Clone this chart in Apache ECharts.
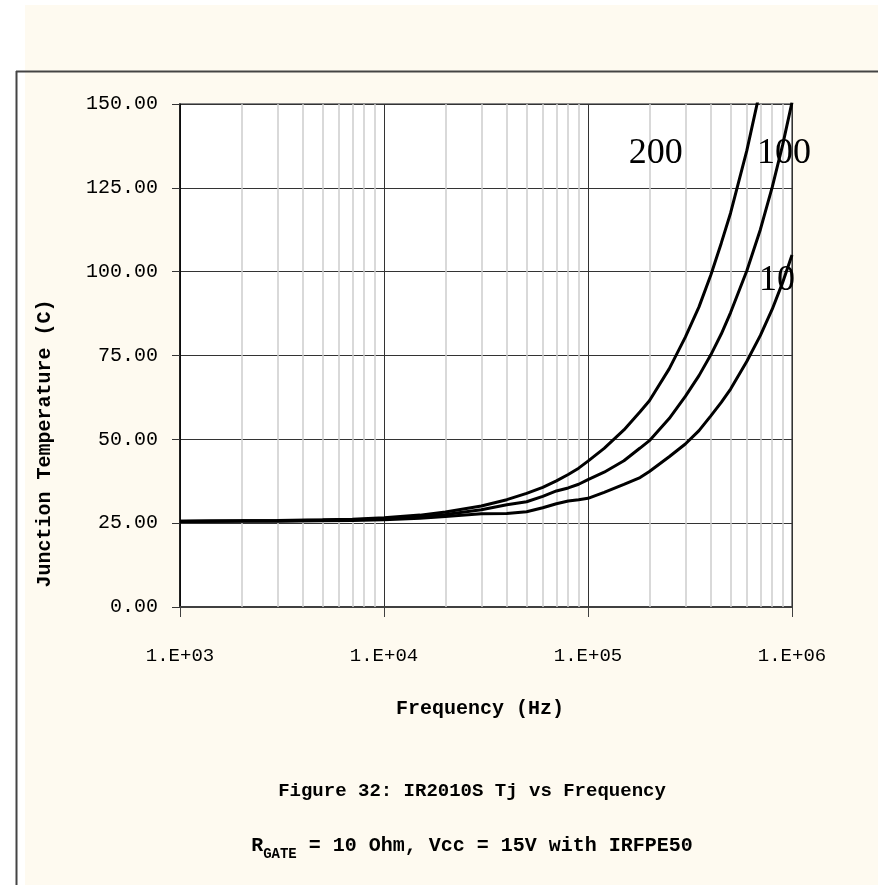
<!DOCTYPE html>
<html>
<head>
<meta charset="utf-8">
<script src="https://cdn.jsdelivr.net/npm/echarts@6/dist/echarts.min.js"></script>
<style>
  html, body { margin: 0; padding: 0; background: #ffffff; }
  #main { width: 878px; height: 885px; }
</style>
</head>
<body>
<div id="main"></div>
<script>
// frequency points (Hz)
var freqs = [1e3, 2e3, 3e3, 5e3, 7e3, 1e4, 1.5e4, 2e4, 3e4, 4e4, 5e4, 6e4, 7e4, 8e4, 9e4,
             1e5, 1.2e5, 1.5e5, 1.8e5, 2e5, 2.5e5, 3e5, 3.5e5, 4e5, 4.5e5, 5e5, 6e5, 7e5, 8e5, 9e5, 1e6];
// junction temperature (C)
var tj200 = [25.6, 25.7, 25.8, 26.0, 26.2, 26.6, 27.4, 28.3, 30.1, 32.0, 33.9, 35.7, 37.6, 39.5, 41.4,
             43.5, 47.3, 52.8, 58.2, 61.5, 71.0, 80.5, 89.5, 99.0, 108.5, 117.5, 136.0, 154.5, null, null, null];
var tj100 = [25.6, 25.7, 25.7, 25.9, 26.0, 26.3, 26.9, 27.6, 29.0, 30.5, 31.4, 33.0, 34.6, 35.5, 36.6,
             38.0, 40.2, 43.6, 47.4, 49.6, 56.2, 62.8, 69.0, 75.2, 81.4, 87.8, 100.2, 112.6, 125.2, 137.8, 150.5];
var tj10 = [25.5, 25.6, 25.6, 25.7, 25.8, 26.0, 26.5, 27.0, 27.8, 27.9, 28.4, 29.6, 30.8, 31.6, 32.0,
            32.4, 34.2, 36.6, 38.6, 40.4, 44.8, 48.6, 52.6, 57.0, 61.0, 65.0, 73.2, 81.0, 88.8, 96.8, 105.0];
// minor log grid lines
var minorFreqs = [2e3, 3e3, 4e3, 5e3, 6e3, 7e3, 8e3, 9e3,
                  2e4, 3e4, 4e4, 5e4, 6e4, 7e4, 8e4, 9e4,
                  2e5, 3e5, 4e5, 5e5, 6e5, 7e5, 8e5, 9e5];
var xTickLabels = {3: '1.E+03', 4: '1.E+04', 5: '1.E+05', 6: '1.E+06'};

var MONO = "'Liberation Mono', 'DejaVu Sans Mono', monospace";

function pairs(ys) {
  return freqs.map(function (f, i) { return [f, ys[i]]; });
}

window.onload = function () {
  var myChart = echarts.init(document.getElementById('main'));
  var option = {
    animation: false,
    backgroundColor: '#ffffff',
    graphic: [
      { type: 'rect', z: -10, shape: { x: 25, y: 5, width: 853, height: 880 }, style: { fill: '#fefaf0' } },
      { type: 'line', z: -9, shape: { x1: 16, y1: 71.5, x2: 878, y2: 71.5 }, style: { stroke: '#444', lineWidth: 2 } },
      { type: 'line', z: -9, shape: { x1: 16.5, y1: 71, x2: 16.5, y2: 885 }, style: { stroke: '#444', lineWidth: 2 } }
    ],
    title: {
      left: 472,
      top: 782,
      padding: 0,
      textAlign: 'center',
      itemGap: 30,
      text: 'Figure 32: IR2010S Tj vs Frequency',
      textStyle: { fontFamily: MONO, fontWeight: 'bold', fontSize: 19, color: '#000' },
      subtext: '{a|R}{s|GATE}{a| = 10 Ohm, Vcc = 15V with IRFPE50}',
      subtextStyle: {
        rich: {
          a: { fontFamily: MONO, fontWeight: 'bold', fontSize: 20, color: '#000' },
          s: { fontFamily: MONO, fontWeight: 'bold', fontSize: 14, color: '#000', padding: [16, 0, 0, 0] }
        }
      }
    },
    grid: {
      left: 180,
      right: 86,
      top: 104,
      bottom: 278,
      show: true,
      backgroundColor: '#ffffff',
      borderColor: '#888888',
      borderWidth: 2
    },
    xAxis: {
      type: 'log',
      logBase: 10,
      min: 1e3,
      max: 1e6,
      splitNumber: 3,
      name: 'Frequency (Hz)',
      nameLocation: 'middle',
      nameGap: 92,
      nameTextStyle: { fontFamily: MONO, fontWeight: 'bold', fontSize: 20, color: '#000', padding: [0, 12, 0, 0] },
      axisLine: { lineStyle: { color: '#404040', width: 2 } },
      axisTick: { show: true, length: 10, lineStyle: { color: '#404040', width: 1 } },
      axisLabel: {
        margin: 39,
        fontFamily: MONO,
        fontSize: 19,
        color: '#000',
        formatter: function (v) { return xTickLabels[Math.round(Math.log10(v))] || ''; }
      },
      splitLine: { show: true, lineStyle: { color: '#333', width: 1 } }
    },
    yAxis: {
      type: 'value',
      min: 0,
      max: 150,
      interval: 25,
      name: 'Junction Temperature (C)',
      nameLocation: 'middle',
      nameGap: 125,
      nameTextStyle: { fontFamily: MONO, fontWeight: 'bold', fontSize: 20, color: '#000', padding: [0, 176, 0, 0] },
      axisLine: { show: true, lineStyle: { color: '#000', width: 1.5 } },
      axisTick: { show: true, length: 8, lineStyle: { color: '#333', width: 1 } },
      axisLabel: {
        margin: 22,
        fontFamily: MONO,
        fontSize: 20,
        color: '#000',
        formatter: function (v) { return v.toFixed(2); }
      },
      splitLine: { show: true, lineStyle: { color: '#333', width: 1 } }
    },
    series: [
      {
        name: '10',
        type: 'line',
        data: pairs(tj10),
        symbol: 'none',
        lineStyle: { color: '#000', width: 3 },
        markLine: {
          silent: true,
          z: 1,
          symbol: 'none',
          label: { show: false },
          lineStyle: { color: '#cccccc', width: 1.5, type: 'solid' },
          data: minorFreqs.map(function (f) { return { xAxis: f }; })
        },
        markPoint: {
          symbolSize: 0,
          label: { show: true, position: 'inside', formatter: '{b}', fontFamily: 'Liberation Serif', fontSize: 36, color: '#000' },
          data: [{ name: '10', coord: [8.44e5, 97.5] }]
        }
      },
      {
        name: '100',
        type: 'line',
        data: pairs(tj100),
        symbol: 'none',
        lineStyle: { color: '#000', width: 3 },
        markPoint: {
          symbolSize: 0,
          label: { show: true, position: 'inside', formatter: '{b}', fontFamily: 'Liberation Serif', fontSize: 36, color: '#000' },
          data: [{ name: '100', coord: [9.14e5, 135.1] }]
        }
      },
      {
        name: '200',
        type: 'line',
        data: pairs(tj200),
        symbol: 'none',
        lineStyle: { color: '#000', width: 3 },
        markPoint: {
          symbolSize: 0,
          label: { show: true, position: 'inside', formatter: '{b}', fontFamily: 'Liberation Serif', fontSize: 36, color: '#000' },
          data: [{ name: '200', coord: [2.15e5, 135.1] }]
        }
      }
    ]
  };
  myChart.setOption(option);
};
</script>
</body>
</html>
